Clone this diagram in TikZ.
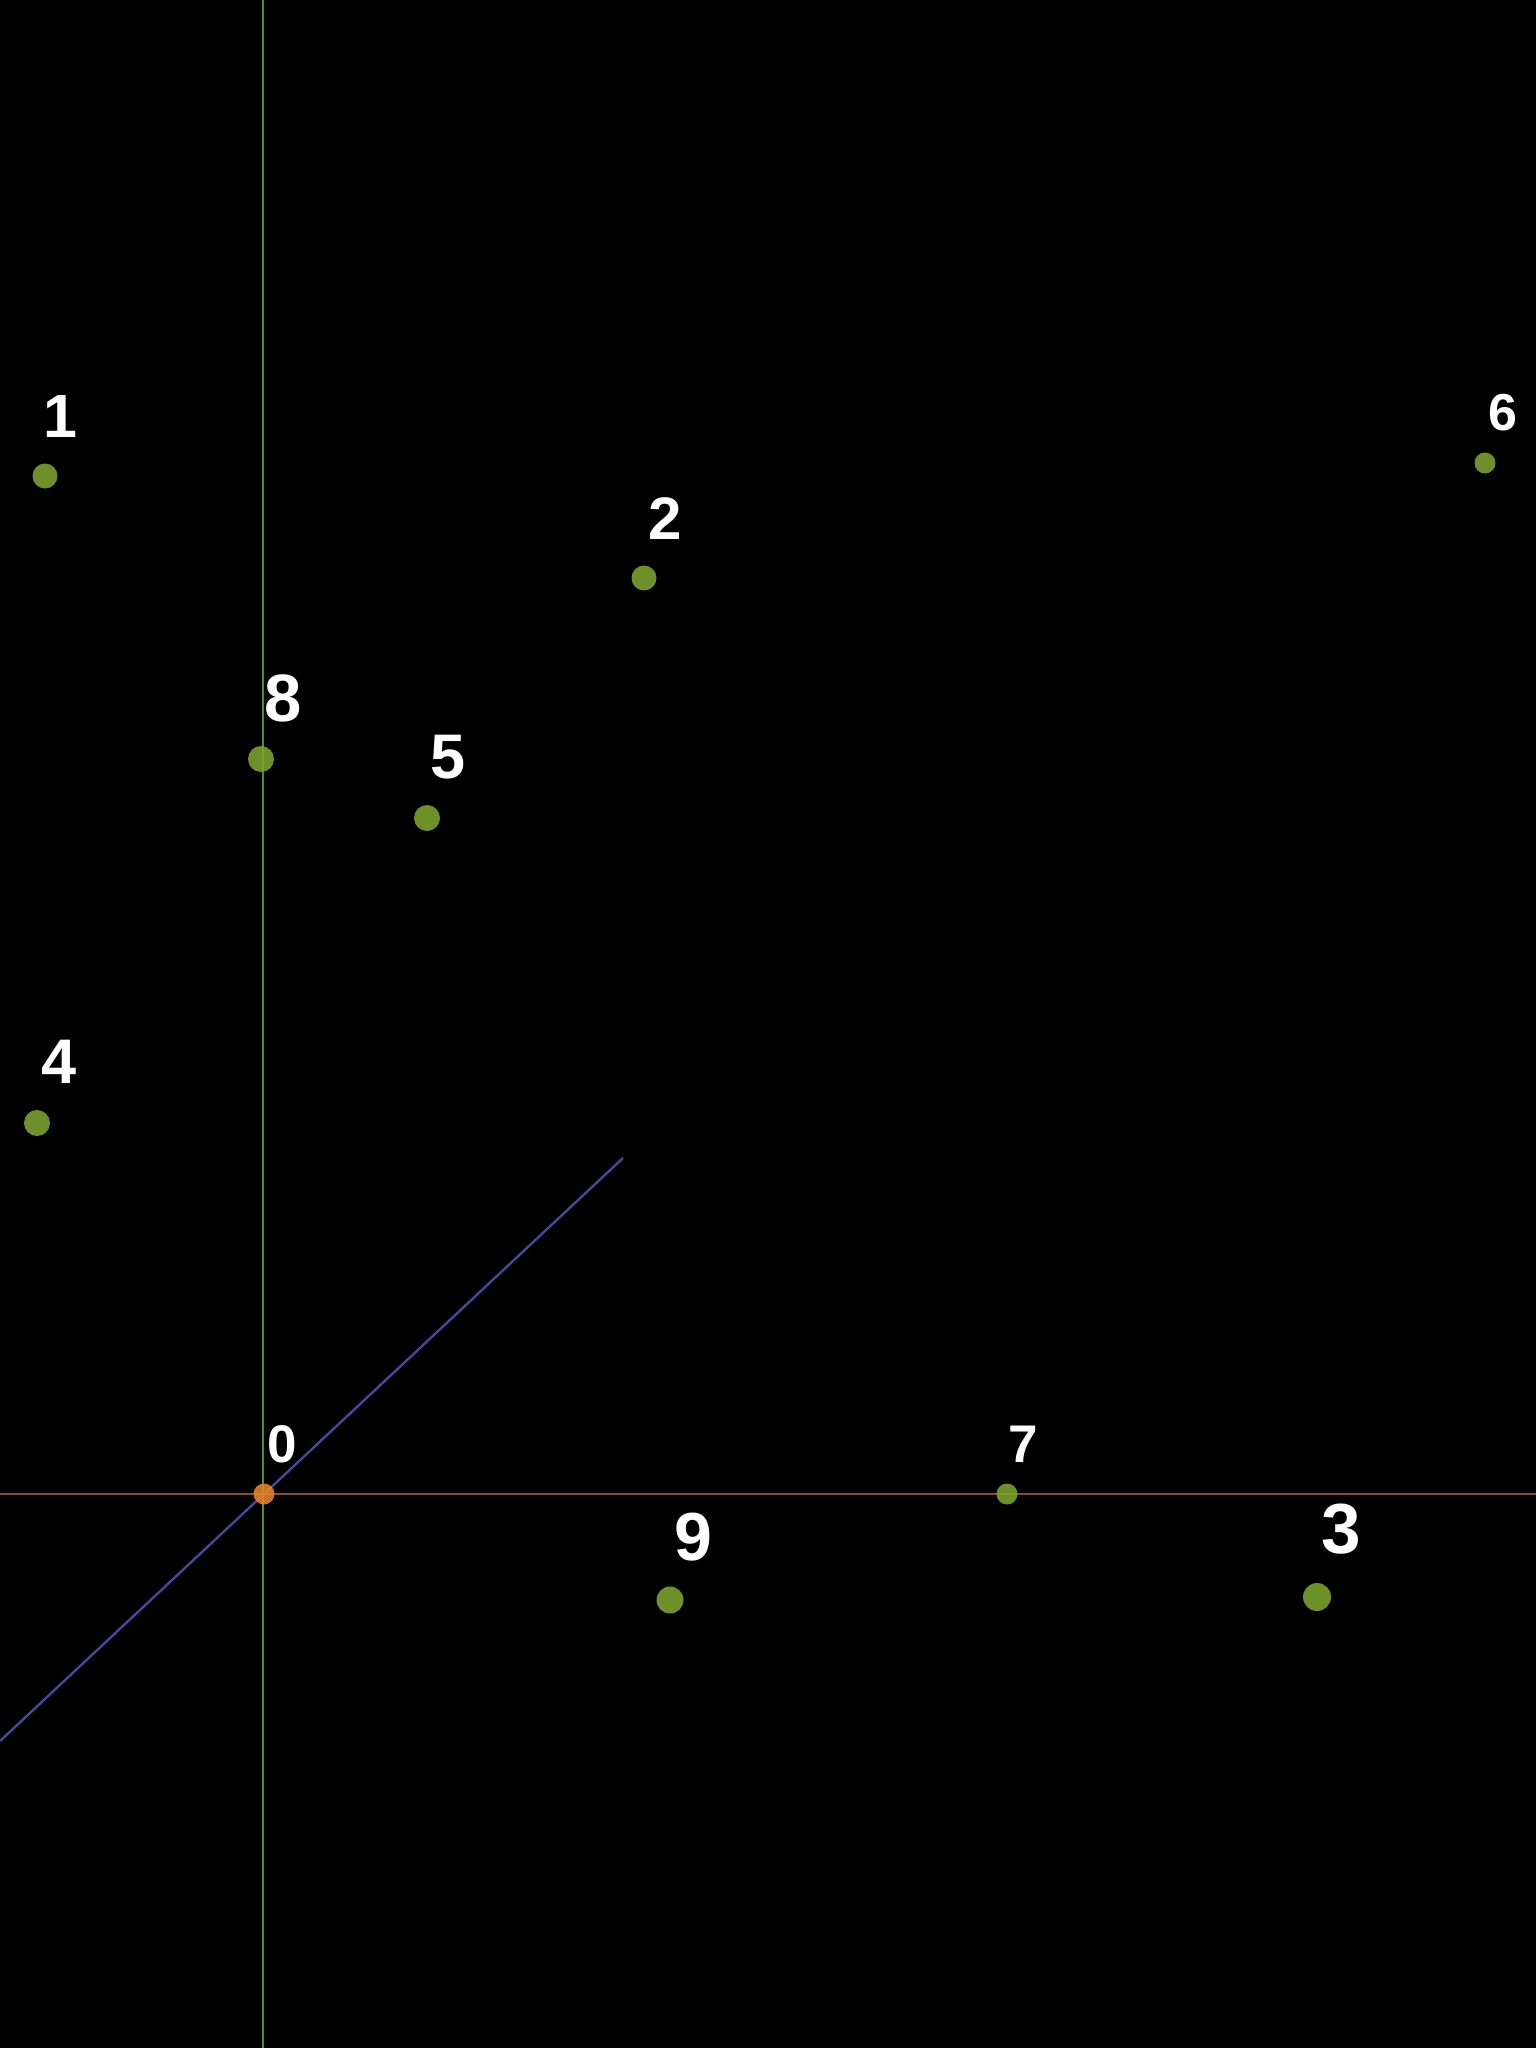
\documentclass[tikz,border=0pt]{standalone}
\usepackage{fontspec}
\setmainfont{Liberation Sans}
\definecolor{dotgreen}{RGB}{125,166,46}
\definecolor{dotorange}{RGB}{232,134,42}
\definecolor{axred}{RGB}{140,72,68}
\definecolor{axgreen}{RGB}{78,140,62}
\definecolor{axblue}{RGB}{72,72,155}
\begin{document}
\begin{tikzpicture}[x=1pt,y=-1pt,
  pt/.style={circle,fill=dotgreen,fill opacity=0.88,inner sep=0pt,minimum size=#1},
  lbl/.style={text=white,anchor=base,inner sep=0pt,font=\bfseries\fontsize{#1}{#1}\selectfont}]
\fill[black] (0,0) rectangle (1536,2048);
\useasboundingbox (0,0) rectangle (1536,2048);
% axes
\coordinate (xa) at (0,1494);
\coordinate (xb) at (1536,1494);
\coordinate (ya) at (263,0);
\coordinate (yb) at (263,2048);
\coordinate (za) at (0,1741);
\coordinate (zb) at (623,1158);
\draw[axred,line width=2.4pt] (xa) -- (xb);
\draw[axgreen,line width=2.4pt] (ya) -- (yb);
\draw[axblue,line width=2.4pt] (za) -- (zb);
% points
\node[pt=25pt] (d1) at (45,476) {};
\node[pt=25pt] (d2) at (644,578) {};
\node[pt=21pt] (d6) at (1485,463) {};
\node[pt=26pt] (d8) at (261,759) {};
\node[pt=26pt] (d5) at (427,818) {};
\node[pt=26pt] (d4) at (37,1123) {};
\node[pt=21pt,fill=dotorange] (d0) at (264,1494) {};
\node[pt=21pt] (d7) at (1007,1494) {};
\node[pt=27pt] (d9) at (670,1600) {};
\node[pt=28pt] (d3) at (1317,1597) {};
% labels
\node[lbl=61] (l1) at (60,437) {1};
\node[lbl=60] (l2) at (665,539) {2};
\node[lbl=52] (l6) at (1503,430) {6};
\node[lbl=67] (l8) at (283,721) {8};
\node[lbl=63] (l5) at (448,778) {5};
\node[lbl=63] (l4) at (59,1083) {4};
\node[lbl=53] (l0) at (282,1462) {0};
\node[lbl=53] (l7) at (1023,1462) {7};
\node[lbl=68] (l9) at (693,1560) {9};
\node[lbl=71] (l3) at (1341,1553) {3};
\end{tikzpicture}
\end{document}
